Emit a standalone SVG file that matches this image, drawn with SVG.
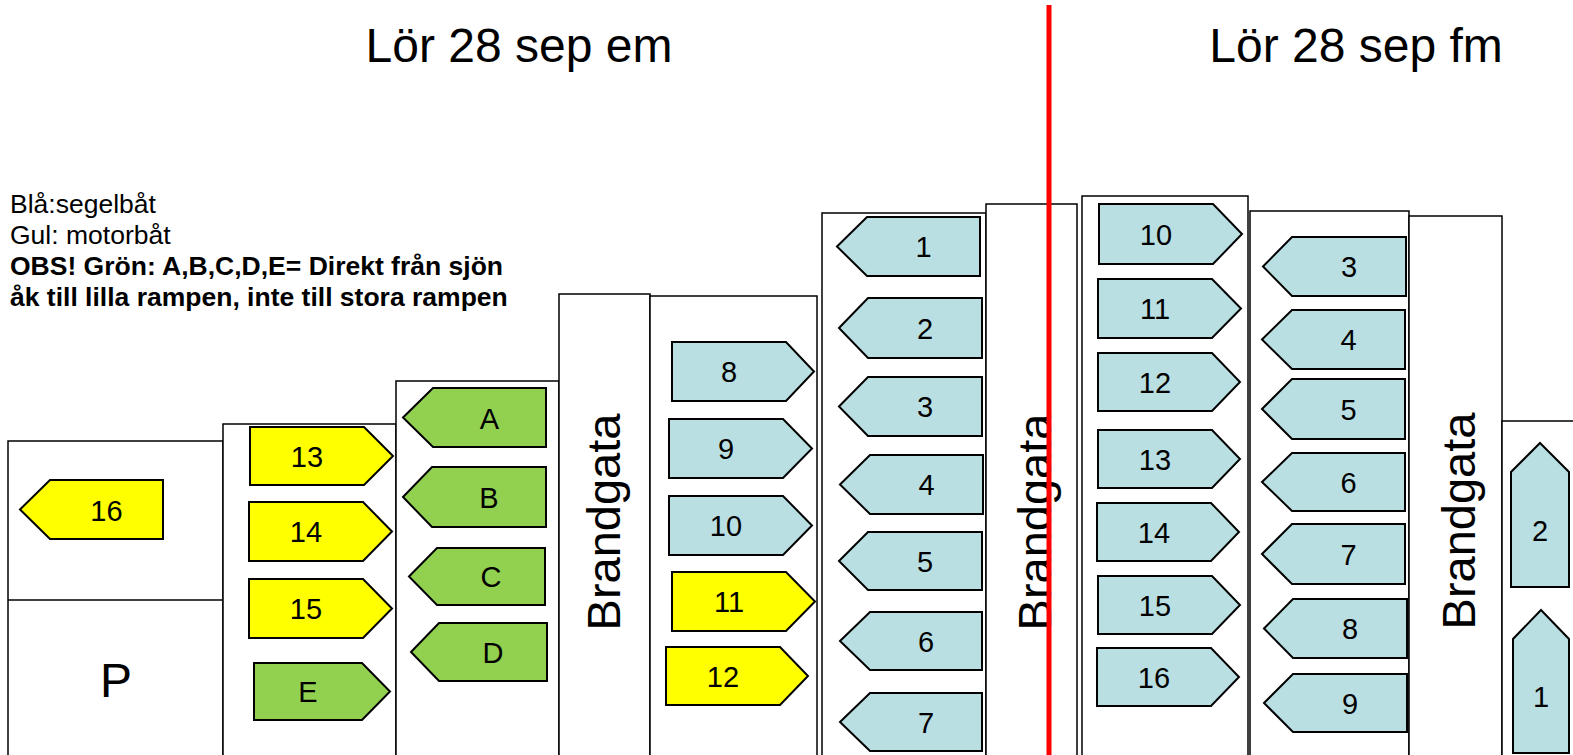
<svg xmlns="http://www.w3.org/2000/svg" width="1573" height="755" viewBox="0 0 1573 755">
<style>
.box{fill:#fff;stroke:#000;stroke-width:1.5}
.ab{stroke:#000;stroke-width:2}
.blue{fill:#B9DFE2}
.yel{fill:#FFFF00}
.grn{fill:#92D050}
.t{font-family:"Liberation Sans",Arial,sans-serif;fill:#000}
.lbl{font-size:29px;text-anchor:middle}
.bg{font-size:47px;text-anchor:middle}
.hd{font-size:48px;text-anchor:middle}
.lg{font-size:26.5px}
</style>
<rect width="1573" height="755" fill="#fff"/>
<g id="headers">
<text class="t hd" x="519" y="62">Lör 28 sep em</text>
<text class="t hd" x="1356" y="62">Lör 28 sep fm</text>
</g>
<g id="legend">
<text class="t lg" x="10" y="213">Blå:segelbåt</text>
<text class="t lg" x="10" y="244">Gul: motorbåt</text>
<text class="t lg" x="10" y="275" font-weight="bold">OBS! Grön: A,B,C,D,E= Direkt från sjön</text>
<text class="t lg" x="10" y="306" font-weight="bold">åk till lilla rampen, inte till stora rampen</text>
</g>
<g id="zones">
<g id="zone-left"><rect class="box" x="8" y="441" width="215" height="330"/><line x1="8" y1="600" x2="223" y2="600" stroke="#000" stroke-width="1.5"/><text class="t" x="116" y="697" font-size="48" text-anchor="middle">P</text></g>
<g id="zone-2"><rect class="box" x="223" y="424" width="173" height="350"/></g>
<g id="zone-3"><rect class="box" x="396" y="381" width="163" height="390"/></g>
<g id="brandgata-1"><rect class="box" x="559" y="294" width="91" height="480"/><text class="t bg" transform="translate(620,522) rotate(-90)">Brandgata</text></g>
<g id="zone-4"><rect class="box" x="650" y="296" width="167" height="480"/></g>
<g id="zone-5"><rect class="box" x="822" y="213" width="164" height="560"/></g>
<g id="brandgata-2"><rect class="box" x="986" y="204" width="91" height="570"/><text class="t bg" transform="translate(1051,522) rotate(-90)">Brandgata</text></g>
<g id="zone-6"><rect class="box" x="1082" y="196" width="166" height="580"/></g>
<g id="zone-7"><rect class="box" x="1250" y="211" width="159" height="560"/></g>
<g id="brandgata-3"><rect class="box" x="1409" y="216" width="93" height="560"/><text class="t bg" transform="translate(1475,521) rotate(-90)">Brandgata</text></g>
<g id="zone-8"><rect class="box" x="1502" y="421" width="90" height="360"/></g>
</g>
<g id="boats">
<g id="em-16"><polygon class="ab yel" points="20,509.5 50,480 163,480 163,539 50,539"/><text class="t lbl" x="106.5" y="520.5">16</text></g>
<g id="em-13"><polygon class="ab yel" points="250,427 364,427 393,456 364,485 250,485"/><text class="t lbl" x="307" y="466.5">13</text></g>
<g id="em-14"><polygon class="ab yel" points="249,502 363,502 392,531.5 363,561 249,561"/><text class="t lbl" x="306" y="542">14</text></g>
<g id="em-15"><polygon class="ab yel" points="249,579 363,579 392,608.5 363,638 249,638"/><text class="t lbl" x="306" y="619">15</text></g>
<g id="em-E"><polygon class="ab grn" points="254,663 362,663 390,691.5 362,720 254,720"/><text class="t lbl" x="308" y="702">E</text></g>
<g id="em-A"><polygon class="ab grn" points="403,417.5 433,388 546,388 546,447 433,447"/><text class="t lbl" x="489.5" y="428.5">A</text></g>
<g id="em-B"><polygon class="ab grn" points="403,497 432,467 546,467 546,527 432,527"/><text class="t lbl" x="489" y="507.5">B</text></g>
<g id="em-C"><polygon class="ab grn" points="409,576.5 437,548 545,548 545,605 437,605"/><text class="t lbl" x="491" y="587">C</text></g>
<g id="em-D"><polygon class="ab grn" points="411,652 439,623 547,623 547,681 439,681"/><text class="t lbl" x="493" y="662.5">D</text></g>
<g id="em-8"><polygon class="ab blue" points="672,342 786,342 814,371.5 786,401 672,401"/><text class="t lbl" x="729" y="382">8</text></g>
<g id="em-9"><polygon class="ab blue" points="669,419 783,419 812,448.5 783,478 669,478"/><text class="t lbl" x="726" y="459">9</text></g>
<g id="em-10"><polygon class="ab blue" points="669,496 783,496 812,525.5 783,555 669,555"/><text class="t lbl" x="726" y="536">10</text></g>
<g id="em-11"><polygon class="ab yel" points="672,572 786,572 815,601.5 786,631 672,631"/><text class="t lbl" x="729" y="612">11</text></g>
<g id="em-12"><polygon class="ab yel" points="666,647 780,647 808,676 780,705 666,705"/><text class="t lbl" x="723" y="686.5">12</text></g>
<g id="em-1"><polygon class="ab blue" points="837,246.5 867,217 980,217 980,276 867,276"/><text class="t lbl" x="923.5" y="257">1</text></g>
<g id="em-2"><polygon class="ab blue" points="839,328 868,298 982,298 982,358 868,358"/><text class="t lbl" x="925" y="338.5">2</text></g>
<g id="em-3"><polygon class="ab blue" points="839,406.5 868,377 982,377 982,436 868,436"/><text class="t lbl" x="925" y="417">3</text></g>
<g id="em-4"><polygon class="ab blue" points="840,484.5 870,455 983,455 983,514 870,514"/><text class="t lbl" x="926.5" y="495">4</text></g>
<g id="em-5"><polygon class="ab blue" points="839,561 868,532 982,532 982,590 868,590"/><text class="t lbl" x="925" y="571.5">5</text></g>
<g id="em-6"><polygon class="ab blue" points="840,641 870,612 982,612 982,670 870,670"/><text class="t lbl" x="926" y="651.5">6</text></g>
<g id="em-7"><polygon class="ab blue" points="840,722 870,693 982,693 982,751 870,751"/><text class="t lbl" x="926" y="732.5">7</text></g>
<g id="fm-10"><polygon class="ab blue" points="1099,204 1213,204 1242,234 1213,264 1099,264"/><text class="t lbl" x="1156" y="244.5">10</text></g>
<g id="fm-11"><polygon class="ab blue" points="1098,279 1212,279 1241,308.5 1212,338 1098,338"/><text class="t lbl" x="1155" y="319">11</text></g>
<g id="fm-12"><polygon class="ab blue" points="1098,353 1212,353 1240,382 1212,411 1098,411"/><text class="t lbl" x="1155" y="392.5">12</text></g>
<g id="fm-13"><polygon class="ab blue" points="1098,430 1212,430 1240,459 1212,488 1098,488"/><text class="t lbl" x="1155" y="469.5">13</text></g>
<g id="fm-14"><polygon class="ab blue" points="1097,503 1211,503 1239,532 1211,561 1097,561"/><text class="t lbl" x="1154" y="542.5">14</text></g>
<g id="fm-15"><polygon class="ab blue" points="1098,576 1212,576 1240,605 1212,634 1098,634"/><text class="t lbl" x="1155" y="615.5">15</text></g>
<g id="fm-16"><polygon class="ab blue" points="1097,648 1211,648 1239,677 1211,706 1097,706"/><text class="t lbl" x="1154" y="687.5">16</text></g>
<g id="fm-3"><polygon class="ab blue" points="1263,266.5 1292,237 1406,237 1406,296 1292,296"/><text class="t lbl" x="1349" y="277">3</text></g>
<g id="fm-4"><polygon class="ab blue" points="1262,339.5 1292,310 1405,310 1405,369 1292,369"/><text class="t lbl" x="1348.5" y="350">4</text></g>
<g id="fm-5"><polygon class="ab blue" points="1262,409 1292,379 1405,379 1405,439 1292,439"/><text class="t lbl" x="1348.5" y="419.5">5</text></g>
<g id="fm-6"><polygon class="ab blue" points="1262,482 1292,453 1405,453 1405,511 1292,511"/><text class="t lbl" x="1348.5" y="492.5">6</text></g>
<g id="fm-7"><polygon class="ab blue" points="1262,554 1292,524 1405,524 1405,584 1292,584"/><text class="t lbl" x="1348.5" y="564.5">7</text></g>
<g id="fm-8"><polygon class="ab blue" points="1264,628.5 1293,599 1407,599 1407,658 1293,658"/><text class="t lbl" x="1350" y="639">8</text></g>
<g id="fm-9"><polygon class="ab blue" points="1264,703 1293,674 1407,674 1407,732 1293,732"/><text class="t lbl" x="1350" y="713.5">9</text></g>
<g id="fm-2"><polygon class="ab blue" points="1540,443 1569,472 1569,587 1511,587 1511,472"/><text class="t lbl" x="1540" y="540.5">2</text></g>
<g id="fm-1"><polygon class="ab blue" points="1541,610 1569,639 1569,753 1513,753 1513,639"/><text class="t lbl" x="1541" y="706.5">1</text></g>
</g>
<g id="connectors">
<line id="divider" x1="1049" y1="5" x2="1049" y2="755" stroke="#FF0000" stroke-width="5"/>
</g>
</svg>
